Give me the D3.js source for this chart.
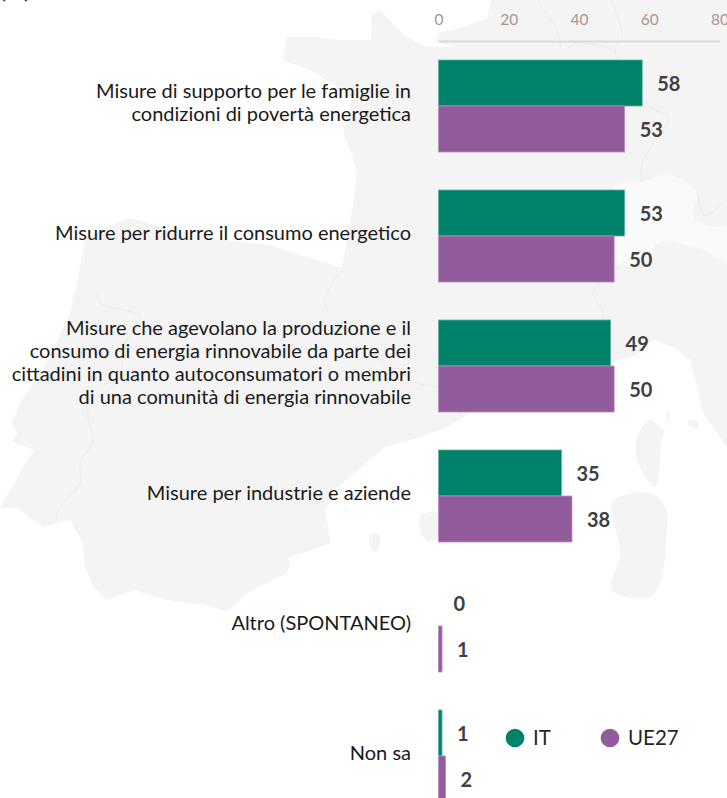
<!DOCTYPE html>
<html><head><meta charset="utf-8">
<script src="https://cdnjs.cloudflare.com/ajax/libs/d3/7.8.5/d3.min.js"></script>
<style>html,body{margin:0;padding:0;background:#fff;overflow:hidden}svg{display:block}text{font-family:Lato,"Open Sans",sans-serif}</style>
</head><body><svg id="c" width="727" height="798"></svg>
<script>
const categories = ["Misure di supporto per le famiglie in|condizioni di povertà energetica","Misure per ridurre il consumo energetico","Misure che agevolano la produzione e il|consumo di energia rinnovabile da parte dei|cittadini in quanto autoconsumatori o membri|di una comunità di energia rinnovabile","Misure per industrie e aziende","Altro (SPONTANEO)","Non sa"];
const seriesNames = ["IT","UE27"];
const valuesIT = [58,53,49,35,0,1];
const valuesUE = [53,50,50,38,1,2];
const ticks = [0,20,40,60,80];
const colors = {IT:"#00816A",UE27:"#925B9B"};
const strokes = {IT:"#5FB3A3",UE27:"#B98FC0"};

// decorative background map outline (picture backdrop, not data)
const land = [[491,0],[487,18],[460,28],[438,33],[436,42],[455,47],[427,47],[405,36],[380,10],[372,15],[371,40],[340,40],[318,37],[287,37],[283,60],[310,70],[335,85],[352,100],[347,120],[343,133],[352,155],[357,173],[353,205],[348,233],[342,268],[300,255],[270,245],[225,240],[185,233],[155,225],[130,218],[105,228],[85,240],[77,283],[70,313],[50,357],[20,403],[12,423],[17,433],[12,442],[35,450],[23,467],[0,508],[17,508],[42,527],[70,520],[83,543],[85,567],[93,587],[107,600],[133,590],[167,600],[207,605],[227,612],[247,593],[287,573],[290,565],[288,558],[331,543],[325,510],[335,490],[385,447],[420,437],[447,427],[463,417],[500,385],[560,375],[610,363],[637,355],[653,340],[673,347],[690,360],[697,387],[703,413],[720,437],[727,448],[727,0]];
const corsica = [[668,410],[665,430],[650,420],[638,435],[637,460],[655,487],[662,440],[670,412]];
const sardinia = [[613,502],[650,493],[665,507],[667,530],[653,595],[612,590],[620,553]];
const elba = [[688,421],[698,421],[698,428],[690,426]];
const mallorca = [[420,516],[438,513],[438,538],[426,540]];
const ibiza = [[372,533],[380,536],[376,552],[369,545]];
const swiss = [[615,187],[640,182],[670,175],[697,193],[693,217],[713,227],[727,227],[727,262],[705,250],[685,245],[660,242],[640,265],[615,262]];
const borders = [
 [[537,0],[557,30],[563,50],[577,43],[615,50]],
 [[612,0],[622,37],[615,50],[650,107],[668,117],[642,163],[642,182]],
 [[642,250],[593,293],[602,310],[610,363]],
 [[343,270],[325,303],[417,383],[437,387],[463,417]],
 [[97,290],[100,303],[140,317],[123,347],[120,377],[88,410],[93,440],[80,463],[80,483],[58,510],[57,520]],
 [[697,193],[705,215],[727,200]]
];

const svg = d3.select("#c");
const bg = svg.append("g");
const path = d3.line().curve(d3.curveCatmullRomClosed);
const sharp = d3.line().curve(d3.curveLinearClosed);
const open = d3.line().curve(d3.curveCatmullRom);
bg.append("path").attr("d",sharp(land)).attr("fill","#F4F4F4");
[corsica,sardinia,elba,mallorca,ibiza].forEach(p=>bg.append("path").attr("d",path(p)).attr("fill","#F4F4F4"));
bg.append("path").attr("d",path(swiss)).attr("fill","#FAFAFA");
borders.forEach(p=>bg.append("path").attr("d",open(p)).attr("fill","none").attr("stroke","#ECECEC").attr("stroke-width",1));

const x = d3.scaleLinear().domain([0,80]).range([438.5,719.5]);
const y = d3.scaleBand().domain(categories).range([41,821]).paddingInner(38/130).paddingOuter(19/130);
const y2 = d3.scaleBand().domain(seriesNames).range([0,y.bandwidth()]);

const axis = svg.append("g").attr("transform","translate(0,41)").call(d3.axisTop(x).tickValues(ticks).tickSize(0).tickPadding(16));
axis.select(".domain").attr("stroke","#DADADA").attr("stroke-width",2);
axis.selectAll("text").attr("fill","#AA968A").attr("font-size",15.5);

const rows = categories.map((c,i)=>({c,it:valuesIT[i],ue:valuesUE[i]}));
const g = svg.selectAll(".row").data(rows).join("g").attr("class","row").attr("transform",d=>`translate(0,${y(d.c)})`);
seriesNames.forEach((s,si)=>{
  const v = d=> si===0?d.it:d.ue;
  g.filter(d=>v(d)>0).append("rect").attr("x",x(0)).attr("y",y2(s)).attr("width",d=>x(v(d))-x(0)).attr("height",y2.bandwidth())
   .attr("fill",colors[s]).attr("stroke",strokes[s]).attr("stroke-width",0.8);
  g.append("text").attr("x",d=>x(v(d))+15).attr("y",y2(s)+y2.bandwidth()/2+1).attr("dy","0.35em")
   .attr("font-size",20).attr("font-weight",700).attr("fill","#404040").text(v);
});
g.each(function(d){
  const lines = d.c.split("|");
  const t = d3.select(this).append("text").attr("text-anchor","end").attr("font-size",20).attr("fill","#1a1a1a");
  lines.forEach((l,i)=>t.append("tspan").attr("x",411).attr("y",y.bandwidth()/2-3.5+(i-(lines.length-1)/2)*23).attr("dy","0.35em").text(l));
});

const legendX = d3.scaleOrdinal().domain(seriesNames).range([515,610]);
const lg = svg.selectAll(".lg").data(seriesNames).join("g").attr("class","lg").attr("transform",s=>`translate(${legendX(s)},738)`);
lg.append("circle").attr("r",9.3).attr("fill",s=>colors[s]);
lg.append("text").attr("x",18).attr("dy","0.35em").attr("font-size",20.5).attr("fill","#262626").text(s=>s);

svg.append("text").attr("x",0).attr("y",-2).attr("font-size",22).attr("font-weight",700).attr("fill","#333").text("(%)");
</script></body></html>
